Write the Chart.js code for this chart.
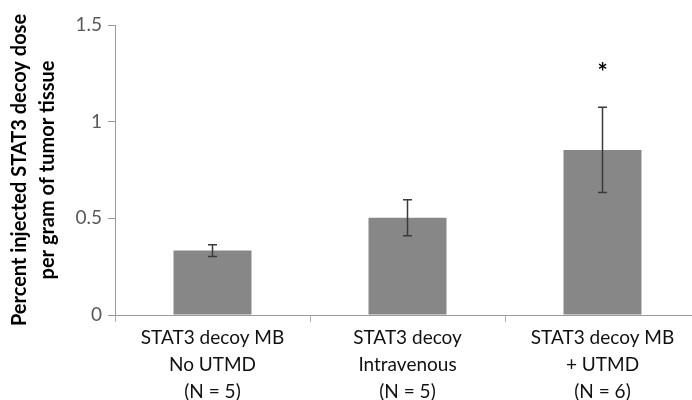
<!DOCTYPE html>
<html>
<head>
<meta charset="utf-8">
<script src="https://cdn.jsdelivr.net/npm/chart.js@4.4.1/dist/chart.umd.min.js"></script>
<style>
  html, body { margin: 0; padding: 0; background: #fff; overflow: hidden; }
  #wrap { width: 692px; height: 400px; overflow: hidden; }
  #wrap div { width: 712px; height: 400px; }
</style>
</head>
<body>
<div id="wrap"><div><canvas id="chart"></canvas></div></div>
<script>
// data
const groups = [
  ['STAT3 decoy MB', 'No UTMD', '(N = 5)'],
  ['STAT3 decoy', 'Intravenous', '(N = 5)'],
  ['STAT3 decoy MB', '+ UTMD', '(N = 6)']
];
const means = [0.333, 0.503, 0.854];
const errors = [0.03, 0.093, 0.22];
const marks = ['', '', '*'];
const yTicks = [0, 0.5, 1, 1.5];

Chart.defaults.font.family = 'Lato, "Open Sans", sans-serif';

// draws the error bars and the significance star
const errorBars = {
  id: 'errorBars',
  afterDatasetsDraw(chart) {
    const ctx = chart.ctx;
    const x = chart.scales.x;
    const y = chart.scales.y;
    ctx.save();
    ctx.strokeStyle = '#3a3a3a';
    ctx.lineWidth = 1.5;
    means.forEach((m, i) => {
      const px = x.getPixelForValue(i);
      const top = y.getPixelForValue(m + errors[i]);
      const bot = y.getPixelForValue(m - errors[i]);
      ctx.beginPath();
      ctx.moveTo(px, top); ctx.lineTo(px, bot);
      ctx.moveTo(px - 4.5, top); ctx.lineTo(px + 4.5, top);
      ctx.moveTo(px - 4.5, bot); ctx.lineTo(px + 4.5, bot);
      ctx.stroke();
      if (marks[i]) {
        ctx.fillStyle = '#000';
        ctx.font = 'bold 24px Lato, sans-serif';
        ctx.textAlign = 'center';
        ctx.textBaseline = 'middle';
        ctx.fillText(marks[i], px, top - 34);
      }
    });
    ctx.restore();
  }
};

new Chart(document.getElementById('chart'), {
  type: 'bar',
  data: {
    labels: groups,
    datasets: [{
      data: means,
      backgroundColor: '#878787',
      barPercentage: 0.4,
      categoryPercentage: 1
    }]
  },
  options: {
    responsive: true,
    maintainAspectRatio: false,
    animation: false,
    layout: { padding: { top: 25, right: 12, left: 0, bottom: 0 } },
    plugins: {
      legend: { display: false },
      tooltip: { enabled: false }
    },
    scales: {
      x: {
        afterFit: s => { s.height = 85; },
        border: { color: '#9a9a9a', width: 1 },
        grid: { display: true, drawOnChartArea: false, drawTicks: true, tickLength: 7, color: '#b0b0b0', offset: true },
        ticks: { color: '#111', font: { size: 19, lineHeight: 1.4 }, padding: 3, maxRotation: 0 }
      },
      y: {
        min: 0,
        max: 1.5,
        afterFit: s => { s.width = 115; },
        afterBuildTicks: s => { s.ticks = yTicks.map(v => ({ value: v })); },
        border: { color: '#9a9a9a', width: 1 },
        grid: { drawOnChartArea: false, drawTicks: true, tickLength: 7, color: '#9a9a9a' },
        ticks: { color: '#595959', font: { size: 19 }, padding: 6, callback: v => String(v) },
        title: {
          display: true,
          text: ['Percent injected STAT3 decoy dose', 'per gram of tumor tissue'],
          color: '#000',
          font: { size: 20, weight: 'bold', lineHeight: 1.4 },
          padding: { top: 6, bottom: 0 }
        }
      }
    }
  },
  plugins: [errorBars]
});
</script>
</body>
</html>
